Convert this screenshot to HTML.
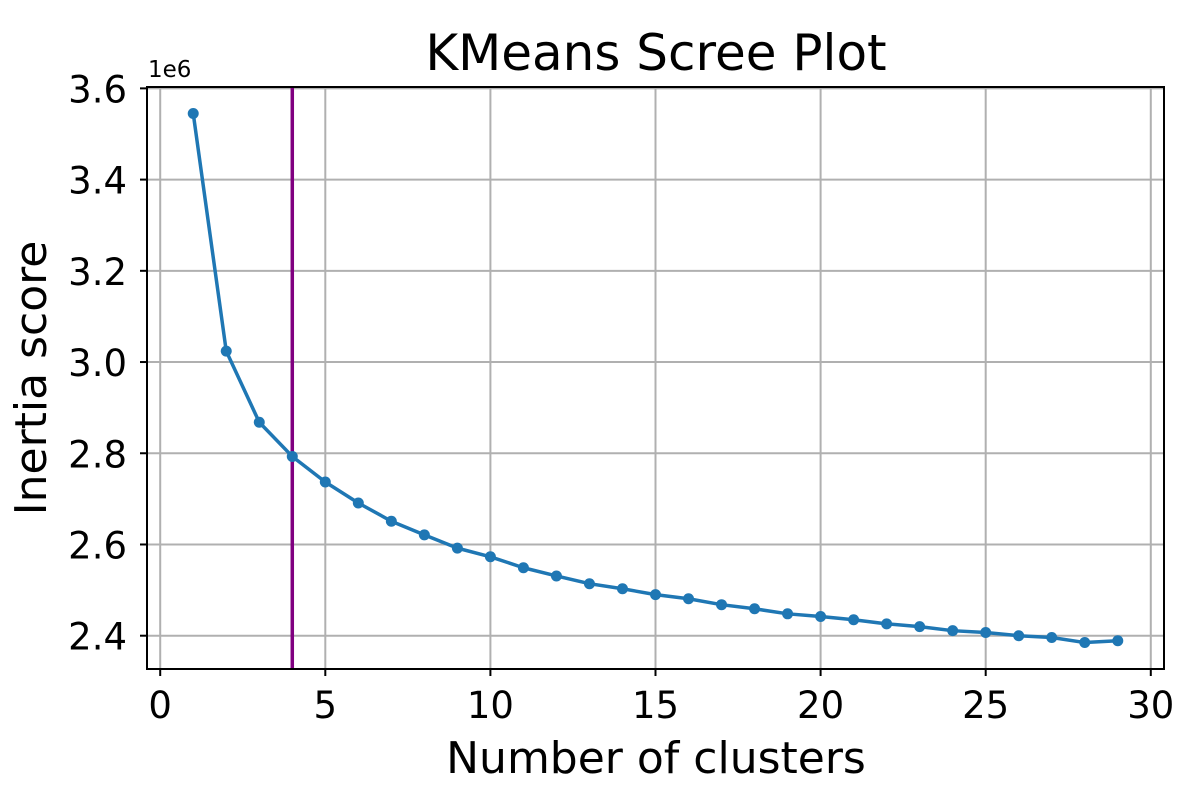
<!DOCTYPE html>
<html><head><meta charset="utf-8"><style>
html,body{margin:0;padding:0;background:#fff;}
svg{display:block;font-family:"DejaVu Sans","Liberation Sans",sans-serif;}
</style></head><body>
<svg id="chart" width="1200" height="800">
<rect x="0" y="0" width="1200" height="800" fill="#fff"/>
<g id="grid"></g><g id="series"></g><g id="axes"></g>
<text x="656" y="70" font-size="50" text-anchor="middle">KMeans Scree Plot</text>
<text x="656" y="773" font-size="44" text-anchor="middle">Number of clusters</text>
<text transform="translate(46,378) rotate(-90)" font-size="44" text-anchor="middle">Inertia score</text>
<text x="148" y="77" font-size="23">1e6</text>
</svg>
<script>
const clusters=[1,2,3,4,5,6,7,8,9,10,11,12,13,14,15,16,17,18,19,20,21,22,23,24,25,26,27,28,29];
const inertia=[3.545,3.024,2.868,2.793,2.737,2.691,2.651,2.621,2.592,2.573,2.549,2.531,2.514,2.503,2.490,2.481,2.468,2.459,2.448,2.442,2.435,2.426,2.420,2.411,2.407,2.400,2.396,2.385,2.389];
const elbowK=4;
const xTicks=[0,5,10,15,20,25,30];
const yTicks=[2.4,2.6,2.8,3.0,3.2,3.4,3.6];
const L=147,R=1164,T=87,B=669;
const xMin=-0.4,xMax=30.4,yMin=2.327,yMax=3.603;
const xs=v=>L+(v-xMin)/(xMax-xMin)*(R-L);
const ys=v=>B-(v-yMin)/(yMax-yMin)*(B-T);
const NS="http://www.w3.org/2000/svg";
function mk(tag,attrs,parent){const e=document.createElementNS(NS,tag);for(const k in attrs)e.setAttribute(k,attrs[k]);parent.appendChild(e);return e;}
const grid=document.getElementById('grid'),series=document.getElementById('series'),axes=document.getElementById('axes');
xTicks.forEach(t=>{const x=xs(t);
 const g=mk('line',{x1:x,x2:x,y1:T,y2:B,stroke:'#b0b0b0','stroke-width':2},grid);
 
 
 mk('line',{x1:x,x2:x,y1:B,y2:B+7,stroke:'#000','stroke-width':2},axes);
 const tx=mk('text',{x:x,y:718,'font-size':37,'text-anchor':'middle'},axes);tx.textContent=t;
 
 
});
yTicks.forEach(t=>{const y=ys(t);
 const g=mk('line',{x1:L,x2:R,y1:y,y2:y,stroke:'#b0b0b0','stroke-width':2},grid);
 
 
 mk('line',{x1:L-7,x2:L,y1:y,y2:y,stroke:'#000','stroke-width':2},axes);
 const tx=mk('text',{x:L-20,y:y+14,'font-size':37,'text-anchor':'end'},axes);tx.textContent=t.toFixed(1);
 
 
});
const vl=mk('line',{x1:xs(elbowK),x2:xs(elbowK),y1:T,y2:B,stroke:'#800080','stroke-width':3.5},series);


const pts=clusters.map((c,i)=>xs(c)+','+ys(inertia[i])).join(' ');
const pl=mk('polyline',{points:pts,fill:'none',stroke:'#1f77b4','stroke-width':3.5,'stroke-linejoin':'round'},series);


clusters.forEach((c,i)=>{const p=mk('circle',{cx:xs(c),cy:ys(inertia[i]),r:5.5,fill:'#1f77b4'},series);
 
 
});
const fr=mk('rect',{x:L,y:T,width:R-L,height:B-T,fill:'none',stroke:'#000','stroke-width':2},axes);


</script>
</body></html>
